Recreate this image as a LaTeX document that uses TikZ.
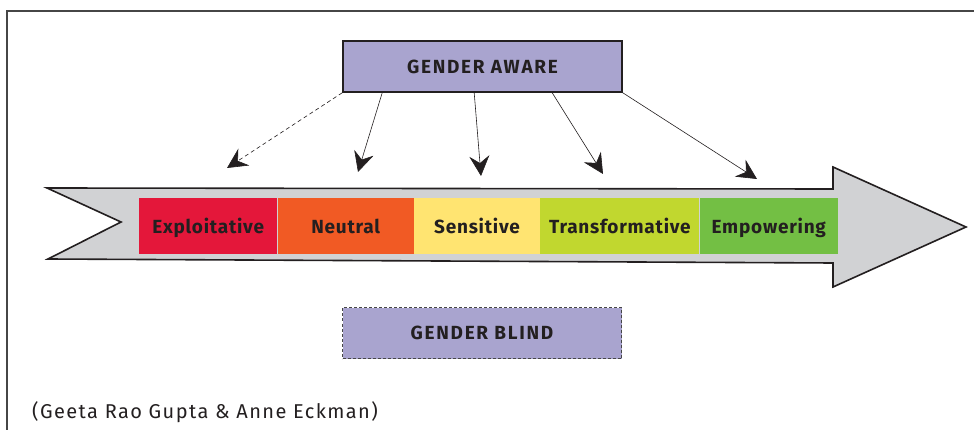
\documentclass[tikz,border=0pt]{standalone}
\usepackage{fontspec}
\setmainfont{Fira Sans}
\newfontfamily\levelfont[LetterSpace=4]{Fira Sans}
\newfontfamily\genderfont[LetterSpace=9]{Fira Sans}
\newfontfamily\sourcefont[LetterSpace=7]{Fira Sans}
\usetikzlibrary{arrows.meta,positioning}
\definecolor{textdark}{RGB}{35,31,32}
\definecolor{framegray}{RGB}{70,70,70}
\definecolor{shaftgray}{RGB}{209,210,212}
\definecolor{genderpurple}{RGB}{169,164,207}
\definecolor{exploitred}{RGB}{228,23,58}
\definecolor{neutralorange}{RGB}{241,90,36}
\definecolor{sensitiveyellow}{RGB}{255,228,113}
\definecolor{transformlime}{RGB}{193,215,47}
\definecolor{empowergreen}{RGB}{115,191,68}
\tikzset{
  levelbox/.style={minimum height=56pt, inner sep=0pt, text height=14pt, text depth=0pt,
    text=textdark, font=\levelfont\bfseries\fontsize{19}{22}\selectfont},
  genderbox/.style={fill=genderpurple, minimum width=279pt, minimum height=51pt,
    inner sep=0pt, text=textdark, font=\genderfont\bfseries\fontsize{19}{22}\selectfont},
  pointer/.style={-{Stealth[length=20pt,width=20pt,inset=7pt]}, line width=0.6pt, color=textdark}
}
\begin{document}
\begin{tikzpicture}[x=1pt,y=-1pt,line join=miter]
  \useasboundingbox (0,0) rectangle (974,430);
  % frame
  \draw [color=framegray, line width=1.8pt] (974,11) -- (7,11) -- (7,430);

  % big arrow
  \draw [fill=shaftgray, draw=textdark, line width=1.6pt]
    (47,188) -- (833,189) -- (833,167) -- (966,227) -- (833,287) -- (833,263)
    -- (48,259) -- (121,222) -- cycle;

  % levels along the arrow
  \node [levelbox, fill=exploitred, minimum width=138pt, anchor=north west] (expl) at (139,198) {Exploitative};
  \node [levelbox, fill=neutralorange, minimum width=136pt, right=0pt of expl] (neut) {Neutral};
  \node [levelbox, fill=sensitiveyellow, minimum width=126pt, right=0pt of neut] (sens) {Sensitive};
  \node [levelbox, fill=transformlime, minimum width=159pt, right=0pt of sens] (trans) {Transformative};
  \node [levelbox, fill=empowergreen, minimum width=138pt, right=0pt of trans] (empow) {Empowering};

  % gender boxes
  \node [genderbox, draw=textdark, line width=1.6pt] (aware) at (482.5,66.5) {GENDER AWARE};
  \node [genderbox, draw=framegray, line width=0.7pt, dash pattern=on 3pt off 2pt] (blind) at (482,333) {GENDER BLIND};

  % arrow tips
  \coordinate (tipexpl) at (227,168);
  \coordinate (tipneut) at (358,172);
  \coordinate (tipsens) at (481,176);
  \coordinate (tiptrans) at (603,174);
  \coordinate (tipempow) at (757,179);

  \draw [pointer, dash pattern=on 4pt off 3pt] (aware.south west) -- (tipexpl);
  \draw [pointer] ([xshift=40pt]aware.south west) -- (tipneut);
  \draw [pointer] ([xshift=132pt]aware.south west) -- (tipsens);
  \draw [pointer] ([xshift=210pt]aware.south west) -- (tiptrans);
  \draw [pointer] (aware.south east) -- (tipempow);

  % source
  \node [anchor=base west, inner sep=0pt, text=textdark, font=\sourcefont\fontsize{20}{24}\selectfont] (source) at (32,418) {(Geeta Rao Gupta \& Anne Eckman)};
\end{tikzpicture}
\end{document}
